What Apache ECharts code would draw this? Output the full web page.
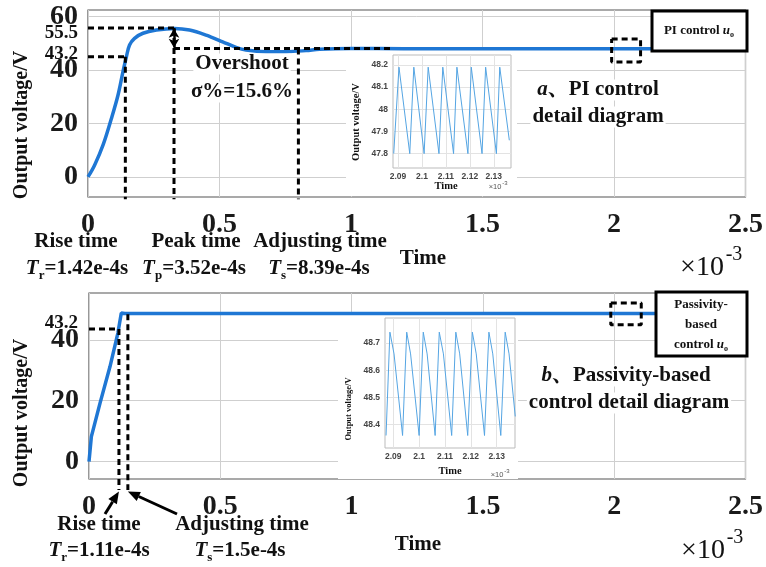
<!DOCTYPE html>
<html><head><meta charset="utf-8">
<script src="https://cdn.jsdelivr.net/npm/echarts@6/dist/echarts.min.js"></script>
<style>html,body{margin:0;padding:0;background:#fff}#c{width:766px;height:567px}</style>
</head><body><div id="c"></div>
<script>
// ---------- data (time in ms, i.e. x 10^-3 s; voltage in V) ----------
const timeTicks = [0, 0.5, 1, 1.5, 2, 2.5];
const piVoltTicks = [0, 20, 40, 60];
const pbcVoltTicks = [0, 20, 40];
const insetTimeTicks = [2.09, 2.1, 2.11, 2.12, 2.13];
const piInsetVoltTicks = [47.8, 47.9, 48, 48.1, 48.2];
const pbcInsetVoltTicks = [48.4, 48.5, 48.6, 48.7];

// PI control output voltage
const piTime = [0, 0.025, 0.057, 0.089, 0.114, 0.133, 0.146, 0.158, 0.177, 0.209, 0.26, 0.329, 0.386, 0.449, 0.512, 0.563, 0.601, 0.677, 0.753, 0.829, 0.88, 1.0, 1.2, 1.5, 1.8, 2.1, 2.5];
const piVolt = [0, 4.4, 11.9, 21.9, 30.6, 39.4, 45, 49.4, 51.9, 53.8, 55, 55.6, 55, 53.1, 50.6, 48.5, 47.5, 46.9, 46.9, 47.3, 47.8, 48.1, 48.0, 48.0, 48.0, 48.0, 48.0];
// Passivity-based control output voltage
const pbcTime = [0, 0.009, 0.042, 0.08, 0.11, 0.123, 0.136, 0.2, 0.5, 1.0, 1.5, 2.0, 2.5];
const pbcVolt = [0, 8.2, 19.2, 31.2, 42.2, 48.8, 48.6, 48.6, 48.6, 48.6, 48.6, 48.6, 48.6];

// detail diagrams (ripple)
const piInsetTime = [2.0882, 2.0904, 2.0949, 2.0966, 2.1009, 2.1026, 2.1071, 2.1087, 2.1132, 2.1146, 2.1192, 2.1206, 2.1251, 2.1266, 2.1311, 2.1325, 2.1365];
const piInsetVolt = [47.80, 48.19, 47.80, 48.19, 47.80, 48.19, 47.80, 48.19, 47.80, 48.19, 47.80, 48.19, 47.80, 48.19, 47.80, 48.19, 47.86];
const pbcInsetTime = [2.0872, 2.0887, 2.0903, 2.0936, 2.0952, 2.0967, 2.1000, 2.1016, 2.1031, 2.1062, 2.1078, 2.1094, 2.1126, 2.1142, 2.1157, 2.1188, 2.1206, 2.1221, 2.1253, 2.1270, 2.1285, 2.1316, 2.1333, 2.1348, 2.1372];
const pbcInsetVolt = [48.36, 48.74, 48.66, 48.36, 48.74, 48.66, 48.36, 48.74, 48.66, 48.36, 48.74, 48.66, 48.36, 48.74, 48.66, 48.36, 48.74, 48.66, 48.36, 48.74, 48.66, 48.36, 48.74, 48.66, 48.43];

// annotation guide values
const piGuideTimes = [0.142, 0.327, 0.8];      // rise, peak, adjusting
const piGuideLevels = [45, 55.8, 48.1];        // rise level, peak level, steady level
const piSteadyGuideEnd = 1.16;
const pbcGuideTimes = [0.114, 0.148];          // rise, adjusting
const pbcGuideLevels = [43.5, 48.4];
const guideBottomPI = -8.3, guideBottomPBC = -9.3;
const piZoomBoxTime = [1.991, 2.101];
const piZoomBoxVolt = [43, 51.6];
const pbcZoomBoxTime = [1.987, 2.103];
const pbcZoomBoxVolt = [44.9, 52.1];

// ---------- chart ----------
const SERIF = '"Liberation Serif", "Times New Roman", "Noto Serif CJK SC", "Noto Sans CJK SC", serif';
const SANS = '"Liberation Sans", Arial, sans-serif';
const zip = (a, b) => a.map((v, i) => [v, b[i]]);
const chart = echarts.init(document.getElementById('c'), null, {renderer: 'canvas'});

function dashed(idx, pts) {
  return {type: 'line', xAxisIndex: idx, yAxisIndex: idx, data: pts, symbol: 'none', clip: false,
    silent: true, z: 5, animation: false, lineStyle: {color: '#000', width: 3, type: [6, 4]}};
}
function box(t, v) {
  return [[t[0], v[1]], [t[1], v[1]], [t[1], v[0]], [t[0], v[0]], [t[0], v[1]]];
}
function mainX(gi) {
  return {type: 'value', gridIndex: gi, min: 0, max: 2.5, interval: 0.5,
    axisLine: {show: false}, axisTick: {show: false},
    axisLabel: {margin: 14, fontSize: 28, fontWeight: 'bold', fontFamily: SERIF, color: '#1a1a1a', showMinLabel: true, showMaxLabel: true},
    splitLine: {show: true, lineStyle: {color: '#cfcfcf', width: 1}}};
}
function mainY(gi, min, max, ticks) {
  return {type: 'value', gridIndex: gi, min, max,
    axisLine: {show: false},
    axisTick: {show: false, customValues: ticks},
    axisLabel: {customValues: ticks, margin: 10, fontSize: 28, fontWeight: 'bold', fontFamily: SERIF, color: '#1a1a1a'},
    splitLine: {show: true, lineStyle: {color: '#cfcfcf', width: 1}}};
}
function insetX(gi, min, max) {
  return {type: 'value', gridIndex: gi, min, max, z: 4,
    axisLine: {show: false},
    axisTick: {show: false, customValues: insetTimeTicks},
    axisLabel: {customValues: insetTimeTicks, margin: 4, fontSize: 8.5, fontWeight: 'bold', fontFamily: SANS, color: '#444'},
    splitLine: {show: true, lineStyle: {color: '#e3e3e3', width: 1}}};
}
function insetY(gi, min, max, ticks) {
  return {type: 'value', gridIndex: gi, min, max, z: 4,
    axisLine: {show: false},
    axisTick: {show: false, customValues: ticks},
    axisLabel: {customValues: ticks, margin: 5, fontSize: 8.5, fontWeight: 'bold', fontFamily: SANS, color: '#444'},
    splitLine: {show: true, lineStyle: {color: '#e3e3e3', width: 1}}};
}

const option = {
  backgroundColor: '#fff',
  animation: false,
  grid: [
    {left: 88, top: 10, width: 660, height: 187, show: true, borderColor: '#555', borderWidth: 1.2, backgroundColor: 'transparent', z: 0},
    {left: 393, top: 55, width: 118, height: 113, show: true, borderColor: '#bbb', borderWidth: 1, backgroundColor: 'transparent', z: 4},
    {left: 89, top: 293, width: 659, height: 186, show: true, borderColor: '#555', borderWidth: 1.2, backgroundColor: 'transparent', z: 0},
    {left: 385, top: 318, width: 130, height: 130, show: true, borderColor: '#bbb', borderWidth: 1, backgroundColor: 'transparent', z: 4}
  ],
  xAxis: [mainX(0), insetX(1, 2.0879, 2.1372), mainX(2), insetX(3, 2.0868, 2.1371)],
  yAxis: [mainY(0, -7.5, 62.5, piVoltTicks), insetY(1, 47.735, 48.245, piInsetVoltTicks),
          mainY(2, -5.7, 55.35, pbcVoltTicks), insetY(3, 48.314, 48.792, pbcInsetVoltTicks)],
  series: [
    {type: 'line', name: 'PI', xAxisIndex: 0, yAxisIndex: 0, data: zip(piTime, piVolt), smooth: 0.35, symbol: 'none', z: 3,
      lineStyle: {color: '#1f77d4', width: 3.5},
      markLine: {silent: true, symbol: ['arrow', 'arrow'], symbolSize: [8, 9], label: {show: false},
        lineStyle: {type: 'solid', color: '#000', width: 2.5},
        data: [[{coord: [piGuideTimes[1], piGuideLevels[1] - 0.3]}, {coord: [piGuideTimes[1], piGuideLevels[2] + 0.3]}]]}},
    dashed(0, [[0, piGuideLevels[1]], [piGuideTimes[1], piGuideLevels[1]]]),
    dashed(0, [[0, piGuideLevels[0]], [piGuideTimes[0], piGuideLevels[0]]]),
    dashed(0, [[piGuideTimes[0], piGuideLevels[0]], [piGuideTimes[0], guideBottomPI]]),
    dashed(0, [[piGuideTimes[1], piGuideLevels[1]], [piGuideTimes[1], guideBottomPI]]),
    dashed(0, [[piGuideTimes[1], piGuideLevels[2]], [piSteadyGuideEnd, piGuideLevels[2]]]),
    dashed(0, [[piGuideTimes[2], piGuideLevels[2]], [piGuideTimes[2], guideBottomPI]]),
    dashed(0, box(piZoomBoxTime, piZoomBoxVolt)),
    {type: 'line', xAxisIndex: 1, yAxisIndex: 1, data: zip(piInsetTime, piInsetVolt), symbol: 'none', z: 6,
      lineStyle: {color: '#55a5e3', width: 1}},
    {type: 'line', name: 'PBC', xAxisIndex: 2, yAxisIndex: 2, data: zip(pbcTime, pbcVolt), symbol: 'none', z: 3,
      lineStyle: {color: '#1f77d4', width: 3.5}},
    dashed(2, [[0, pbcGuideLevels[0]], [pbcGuideTimes[0], pbcGuideLevels[0]]]),
    dashed(2, [[pbcGuideTimes[0], pbcGuideLevels[0]], [pbcGuideTimes[0], guideBottomPBC]]),
    dashed(2, [[pbcGuideTimes[1], pbcGuideLevels[1]], [pbcGuideTimes[1], guideBottomPBC]]),
    dashed(2, box(pbcZoomBoxTime, pbcZoomBoxVolt)),
    {type: 'line', xAxisIndex: 3, yAxisIndex: 3, data: zip(pbcInsetTime, pbcInsetVolt), symbol: 'none', z: 6,
      lineStyle: {color: '#55a5e3', width: 1}}
  ]
};
chart.setOption(option);

// ---------- annotations ----------
function txt(x, y, text, size, extra) {
  const st = Object.assign({text, font: `bold ${size}px ${SERIF}`, fill: '#111', align: 'center', verticalAlign: 'middle'}, extra || {});
  return {type: 'text', x, y, z: 20, style: st};
}
function tLabel(x, y, sub, rest) {
  return txt(x, y, `{t|T}{s|${sub}}{n|${rest}}`, 21, {rich: {
    t: {font: `italic bold 21px ${SERIF}`, fill: '#111', lineHeight: 26, verticalAlign: 'middle'},
    s: {font: `bold 13px ${SERIF}`, fill: '#111', lineHeight: 26, verticalAlign: 'bottom'},
    n: {font: `bold 21px ${SERIF}`, fill: '#111', lineHeight: 26, verticalAlign: 'middle'}}});
}
function arrow(tail, tip) {
  const dx = tip[0] - tail[0], dy = tip[1] - tail[1], L = Math.hypot(dx, dy);
  const ux = dx / L, uy = dy / L, hl = 12, hw = 5;
  const bx = tip[0] - ux * hl, by = tip[1] - uy * hl;
  return [
    {type: 'line', z: 20, shape: {x1: tail[0], y1: tail[1], x2: bx, y2: by}, style: {stroke: '#000', lineWidth: 3}},
    {type: 'polygon', z: 20, shape: {points: [tip, [bx - uy * hw, by + ux * hw], [bx + uy * hw, by - ux * hw]]}, style: {fill: '#000'}}
  ];
}
const riseTip = chart.convertToPixel({gridIndex: 2}, [pbcGuideTimes[0], guideBottomPBC - 0.5]);
const adjTip = chart.convertToPixel({gridIndex: 2}, [pbcGuideTimes[1], guideBottomPBC - 0.5]);
const wbg = {backgroundColor: '#fff', padding: [0, 2]};
const uo = (size) => ({
  i: {font: `italic bold ${size}px ${SERIF}`, fill: '#111', lineHeight: size + 2},
  s: {font: `bold ${Math.round(size * 0.65)}px ${SERIF}`, fill: '#111', verticalAlign: 'bottom', lineHeight: size + 2}
});
const vText = (x, y, s, size) => Object.assign(txt(x, y, s, size, {}), {rotation: Math.PI / 2});

const graphics = [
  // inset white panels
  {type: 'rect', z: 1, shape: {x: 346, y: 50, width: 171, height: 146}, style: {fill: '#fff'}},
  {type: 'rect', z: 1, shape: {x: 338, y: 315, width: 180, height: 164}, style: {fill: '#fff'}},
  // y axis names
  vText(22, 125, 'Output voltage/V', 20), vText(22, 413, 'Output voltage/V', 20),
  // extra y labels
  txt(78, 33, '55.5', 19, {align: 'right'}), txt(78, 54, '43.2', 19, {align: 'right'}),
  txt(78, 323, '43.2', 19, {align: 'right'}),
  // x names and multipliers
  txt(423, 259, 'Time', 21), txt(418, 545, 'Time', 21),
  txt(702, 268, '×10', 28, {font: `28px ${SERIF}`}), txt(734, 255, '-3', 20, {font: `20px ${SERIF}`}),
  txt(703, 551, '×10', 28, {font: `28px ${SERIF}`}), txt(735, 538, '-3', 20, {font: `20px ${SERIF}`}),
  // top annotations
  txt(242, 64, 'Overshoot', 21, wbg), txt(242, 92, 'σ%=15.6%', 21, wbg),
  txt(598, 90, '{i|a}{n|、PI control}', 21, Object.assign({rich: {
    i: {font: `italic bold 21px ${SERIF}`, fill: '#111'}, n: {font: `bold 21px ${SERIF}`, fill: '#111'}}}, wbg)),
  txt(598, 117, 'detail diagram', 21, wbg),
  txt(76, 242, 'Rise time', 21), txt(196, 242, 'Peak time', 21), txt(320, 242, 'Adjusting time', 21),
  tLabel(77, 269, 'r', '=1.42e-4s'), tLabel(194, 269, 'p', '=3.52e-4s'), tLabel(319, 269, 's', '=8.39e-4s'),
  // bottom annotations
  txt(99, 525, 'Rise time', 21), txt(242, 525, 'Adjusting time', 21),
  tLabel(99, 551, 'r', '=1.11e-4s'), tLabel(240, 551, 's', '=1.5e-4s'),
  txt(626, 376, '{i|b}{n|、Passivity-based}', 21, Object.assign({rich: {
    i: {font: `italic bold 21px ${SERIF}`, fill: '#111'}, n: {font: `bold 21px ${SERIF}`, fill: '#111'}}}, wbg)),
  txt(629, 403, 'control detail diagram', 21, wbg),
  // legend boxes
  {type: 'rect', z: 18, shape: {x: 652, y: 11, width: 95, height: 40}, style: {fill: '#fff', stroke: '#000', lineWidth: 3}},
  txt(699, 31, '{n|PI control }{i|u}{s|o}', 13, {rich: Object.assign({n: {font: `bold 13px ${SERIF}`, fill: '#111', lineHeight: 15}}, uo(13))}),
  {type: 'rect', z: 18, shape: {x: 656, y: 292, width: 91, height: 64}, style: {fill: '#fff', stroke: '#000', lineWidth: 3}},
  txt(701, 305, 'Passivity-', 13), txt(701, 325, 'based', 13),
  txt(701, 345, '{n|control }{i|u}{s|o}', 13, {rich: Object.assign({n: {font: `bold 13px ${SERIF}`, fill: '#111', lineHeight: 15}}, uo(13))}),
  // inset labels
  vText(356, 122, 'Output voltage/V', 10.5), vText(349, 409, 'Output voltage/V', 8.5),
  txt(446, 186, 'Time', 10.5), txt(450, 471, 'Time', 10.5),
  txt(495, 187, '×10', 7.5, {font: `7.5px ${SANS}`, fill: '#555'}), txt(505, 183, '-3', 6, {font: `6px ${SANS}`, fill: '#555'}),
  txt(497, 475, '×10', 7.5, {font: `7.5px ${SANS}`, fill: '#555'}), txt(507, 471, '-3', 6, {font: `6px ${SANS}`, fill: '#555'})
].concat(arrow([105, 514], riseTip), arrow([177, 514], adjTip));

chart.setOption({graphic: graphics});
</script>
</body></html>
